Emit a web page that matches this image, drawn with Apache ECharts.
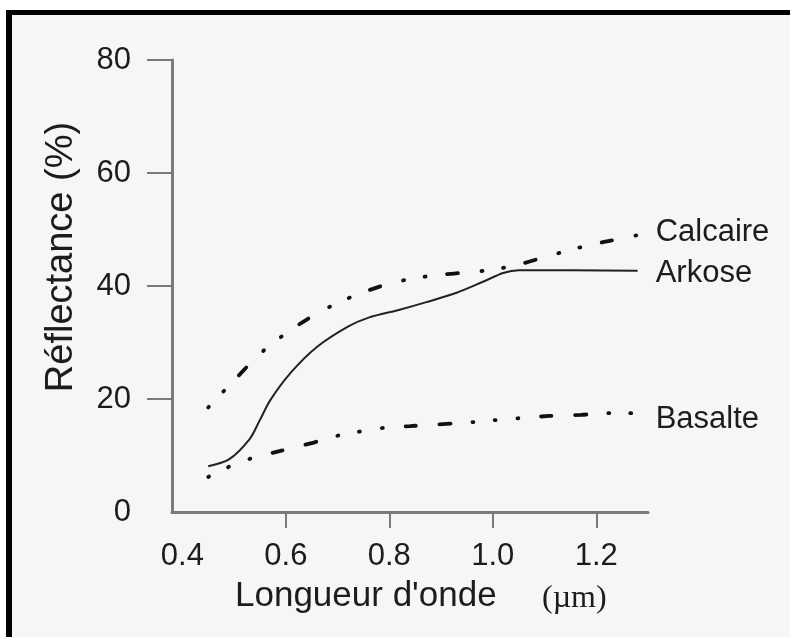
<!DOCTYPE html>
<html>
<head>
<meta charset="utf-8">
<script src="https://cdn.jsdelivr.net/npm/echarts@6/dist/echarts.min.js"></script>
<style>
html,body{margin:0;padding:0;background:#ffffff;}
#chart{width:790px;height:643px;}
</style>
</head>
<body>
<div id="chart"></div>
<script>
// Wavelength (µm) and reflectance (%)
var calcaireX = [0.45, 0.50, 0.55, 0.60, 0.65, 0.70, 0.75, 0.80, 0.85, 0.90, 0.95, 1.00, 1.05, 1.10, 1.15, 1.20, 1.28];
var calcaireY = [18.5, 23.3, 28.0, 31.6, 34.6, 37.0, 38.9, 40.4, 41.4, 42.0, 42.4, 42.9, 43.8, 45.1, 46.4, 47.5, 49.0];

var arkoseX = [0.45, 0.49, 0.53, 0.55, 0.57, 0.61, 0.66, 0.72, 0.76, 0.82, 0.87, 0.93, 0.98, 1.02, 1.05, 1.28];
var arkoseY = [8.1, 9.3, 12.9, 16.3, 19.8, 24.7, 29.2, 32.8, 34.4, 35.8, 37.1, 38.8, 40.7, 42.3, 42.8, 42.7];

var basalteX = [0.45, 0.49, 0.53, 0.58, 0.65, 0.70, 0.74, 0.79, 0.84, 0.91, 0.96, 1.01, 1.05, 1.11, 1.17, 1.23, 1.28];
var basalteY = [6.2, 8.0, 9.4, 10.6, 12.2, 13.5, 14.2, 14.9, 15.2, 15.6, 15.9, 16.3, 16.6, 17.0, 17.2, 17.5, 17.5];

var xTickLabels = [0.4, 0.6, 0.8, 1.0, 1.2];
var xTickMarks = [0.6, 0.8, 1.0, 1.2];
var yTickMarks = [20, 40, 60, 80];

var seriesNames = ['Calcaire', 'Arkose', 'Basalte'];
var xTitle = "Longueur d'onde";
var xUnit = '(\u00b5m)';
var yTitle = 'R\u00e9flectance (%)';

function zip(xs, ys) { return xs.map(function (x, i) { return [x, ys[i]]; }); }

var FONT = '"Liberation Sans", Arial, Helvetica, sans-serif';
var TXT = '#1c1c1c';
var AX = '#7a7a7a';

var chart = echarts.init(document.getElementById('chart'), null, {renderer: 'canvas'});
function endLbl(dy) {
  return {show: true, formatter: '{a}', fontSize: 31, fontFamily: FONT, color: TXT, distance: 18, offset: [0, dy]};
}

chart.setOption({
  backgroundColor: '#ffffff',
  animation: false,
  grid: {left: 172, top: 60, right: 142, bottom: 131, outerBoundsMode: 'none', containLabel: false},
  xAxis: {
    type: 'value', min: 0.38, max: 1.30,
    axisLine: {show: true, lineStyle: {color: AX, width: 3}},
    axisTick: {show: true, customValues: xTickMarks, length: 16, lineStyle: {color: AX, width: 2}},
    axisLabel: {show: true, customValues: xTickLabels, margin: 29, fontSize: 31, fontFamily: FONT, color: TXT,
      formatter: function (v) { return Number(v).toFixed(1); }},
    splitLine: {show: false}
  },
  yAxis: {
    type: 'value', min: 0, max: 80, interval: 20,
    axisLine: {show: true, lineStyle: {color: AX, width: 3}},
    axisTick: {show: true, customValues: yTickMarks, length: 25, lineStyle: {color: AX, width: 2}},
    axisLabel: {show: true, margin: 41, fontSize: 31, fontFamily: FONT, color: TXT},
    splitLine: {show: false}
  },
  graphic: [
    {type: 'rect', z: -10, shape: {x: 6, y: 10, width: 784, height: 627}, style: {fill: '#f6f6f6'}},
    {type: 'rect', z: 100, shape: {x: 6, y: 10, width: 784, height: 5}, style: {fill: '#000'}},
    {type: 'rect', z: 100, shape: {x: 6, y: 10, width: 6, height: 627}, style: {fill: '#000'}},
    {type: 'text', z: 100, style: {text: xTitle, x: 235, y: 596, fontSize: 35, fontFamily: FONT, fill: TXT, align: 'left', verticalAlign: 'middle'}},
    {type: 'text', z: 100, style: {text: xUnit, x: 542, y: 599, fontSize: 32, fontFamily: '"Liberation Serif", "Times New Roman", serif', fill: TXT, align: 'left', verticalAlign: 'middle'}},
    {type: 'text', z: 100, x: 62, y: 257, rotation: Math.PI / 2, style: {text: yTitle, x: 0, y: 0, fontSize: 38, fontFamily: FONT, fill: TXT, align: 'center', verticalAlign: 'middle'}}
  ],
  series: [
    {
      name: seriesNames[0], type: 'line', data: zip(calcaireX, calcaireY), smooth: 0.3, symbol: 'none',
      lineStyle: {color: '#111', width: 3.8, type: [1, 21, 1, 21.75, 10.5, 23.75], cap: 'round'},
      endLabel: endLbl(-3)
    },
    {
      name: seriesNames[1], type: 'line', data: zip(arkoseX, arkoseY), smooth: 0.3, symbol: 'none',
      lineStyle: {color: '#222', width: 2},
      endLabel: endLbl(3)
    },
    {
      name: seriesNames[2], type: 'line', data: zip(basalteX, basalteY), smooth: 0.3, symbol: 'none',
      lineStyle: {color: '#111', width: 3.8, type: [1, 21, 1, 22, 1, 22.75, 10.5, 23.5, 11.5, 21.75], cap: 'round'},
      endLabel: endLbl(6)
    }
  ]
});
</script>
</body>
</html>
